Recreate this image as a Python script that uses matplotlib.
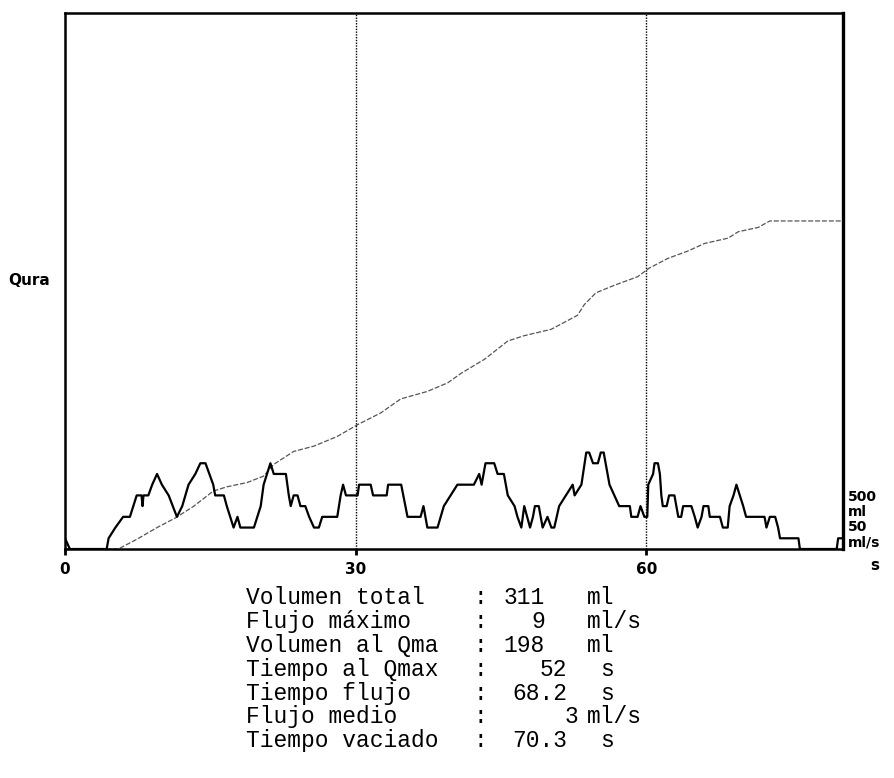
import matplotlib
matplotlib.use("Agg")
import matplotlib.pyplot as plt

# ---- data ----
flow_t = [0, 0.5, 4.3, 4.5, 5.2, 6.0, 6.7, 7.4, 7.9, 8.0, 8.1, 8.6, 9.0, 9.5, 10.0, 10.7,
          11.55, 12.1, 12.75, 13.45, 13.97, 14.5, 14.9, 15.3, 15.5, 16.4, 16.7, 17.4, 17.8,
          18.1, 19.5, 20.2, 20.5, 21.2, 21.55, 22.8, 23.1, 23.3, 23.6, 24.0, 24.3, 24.8,
          25.2, 25.7, 26.2, 26.55, 28.1, 28.45, 28.7, 29.0, 30.2, 30.35, 31.55, 31.8, 33.2,
          33.35, 34.7, 35.35, 36.7, 37.0, 37.4, 38.45, 39.1, 39.8, 40.5, 42.2, 42.75, 43.0,
          43.4, 44.3, 44.65, 45.3, 45.7, 46.4, 46.7, 47.1, 47.4, 47.7, 48.0, 48.3, 48.5,
          48.9, 49.3, 49.8, 50.2, 50.5, 51.0, 52.4, 52.6, 53.3, 53.8, 54.1, 54.5, 55.0,
          55.3, 55.6, 56.0, 56.2, 56.7, 57.2, 58.3, 58.45, 59.1, 59.4, 59.8, 60.1, 60.2,
          60.7, 60.85, 61.2, 61.4, 61.55, 61.7, 62.1, 62.35, 62.9, 63.3, 63.6, 63.8, 64.65,
          65.0, 65.3, 65.7, 65.9, 66.4, 66.55, 67.6, 67.9, 68.4, 68.6, 69.0, 69.3, 69.65,
          70.0, 70.3, 72.2, 72.4, 72.75, 73.3, 73.6, 73.8, 75.7, 75.85, 79.65, 79.8, 80.3]
flow_q = [1, 0, 0, 1, 2, 3, 3, 5, 5, 4, 5, 5, 6, 7, 6, 5,
          3, 4, 6, 7, 8, 8, 7, 6, 5, 5, 4, 2, 3,
          2, 2, 4, 6, 8, 7, 7, 5, 4, 5, 5, 4, 4,
          3, 2, 2, 3, 3, 5, 6, 5, 5, 6, 6, 5, 5,
          6, 6, 3, 3, 4, 2, 2, 4, 5, 6, 6, 7, 6,
          8, 8, 7, 7, 5, 4, 3, 2, 4, 3, 2, 3, 4,
          4, 2, 3, 2, 2, 4, 6, 5, 6, 9, 9, 8, 8,
          9, 9, 7, 6, 5, 4, 4, 3, 3, 4, 3, 3, 6,
          7, 8, 8, 7, 5, 4, 4, 5, 5, 3, 3, 4, 4,
          3, 2, 3, 4, 4, 3, 3, 2, 2, 4, 5, 6, 5,
          4, 3, 3, 2, 3, 3, 2, 1, 1, 0, 0, 1, 1]

vol_t = [0, 5.5, 7.4, 9.5, 11.4, 13.3, 15.3, 16.7, 18.8, 20.5, 21.55, 23.6, 25.7, 28.1,
         30.2, 32.6, 34.65, 37.4, 39.5, 40.9, 43.3, 45.7, 47.4, 50.2, 52.9, 53.6, 54.8,
         56.7, 59.1, 60.3, 62.2, 64.3, 66.0, 68.45, 69.5, 71.55, 72.75, 73.3, 80.3]
vol_ml = [0, 0, 9, 20, 29, 40, 54, 58, 62, 68, 79, 91, 96, 105,
          116, 127, 140, 147, 155, 164, 177, 194, 199, 205, 218, 228, 239,
          246, 254, 262, 271, 278, 285, 290, 296, 300, 306, 306, 306]

x_ticks = [0, 30, 60]
x_tick_labels = ["0", "30", "60"]
right_labels = ["500", "ml", "50", "ml/s"]

stat_labels = ["Volumen total", "Flujo máximo", "Volumen al Qma", "Tiempo al Qmax",
               "Tiempo flujo", "Flujo medio", "Tiempo vaciado"]
stat_values = ["311", "9", "198", "52", "68.2", "3", "70.3"]
stat_units = ["ml", "ml/s", "ml", "s", "s", "ml/s", "s"]

# ---- figure ----
W, H = 895, 778
fig = plt.figure(figsize=(W / 100, H / 100), dpi=100)
fig.patch.set_facecolor("white")

L, R, T, B = 65, 843, 13, 549
ax = fig.add_axes([L / W, 1 - B / H, (R - L) / W, (B - T) / H])
ax.set_xlim(0, 80.3)
ax.set_ylim(0, 50)

ax2 = ax.twinx()
ax2.set_ylim(0, 500)
for s in ax2.spines.values():
    s.set_visible(False)
ax2.set_yticks([])

ax2.plot(vol_t, vol_ml, color="#555555", lw=0.9, ls=(0, (4, 1.5)), zorder=2)
ax.plot(flow_t, flow_q, color="black", lw=1.6, zorder=3)
ax.set_zorder(ax2.get_zorder() + 1)
ax.patch.set_visible(False)

for xv in [30, 60]:
    ax.axvline(xv, color="black", lw=1.0, ls=(0, (1, 1)), zorder=1)

for s in ax.spines.values():
    s.set_color("black")
    s.set_linewidth(1.8)
ax.spines["right"].set_linewidth(2.4)

ax.set_yticks([])
ax.set_xticks(x_ticks)
ax.set_xticklabels(x_tick_labels, fontsize=11, fontweight="bold", family="DejaVu Sans")
ax.tick_params(axis="x", length=4, width=2, pad=5, direction="out")

# axis annotations
fig.text(8 / W, 1 - 281 / H, "Qura", fontsize=11, fontweight="bold", ha="left", va="center")
fig.text(875 / W, 1 - 565 / H, "s", fontsize=11, fontweight="bold", ha="center", va="center")
for lab, yy in zip(right_labels, [497, 512, 527, 542]):
    fig.text(848 / W, 1 - yy / H, lab, fontsize=10, fontweight="bold", ha="left", va="center")

# stats block
mono = "Liberation Mono"
fs = 16.5
baselines = [604, 628, 652, 676, 700, 723, 747]
val_right = [545, 545, 545, 567, 567, 578, 567]
unit_left = [587, 587, 587, 600, 600, 587, 600]
for lab, val, unit, yb, vr, ul in zip(stat_labels, stat_values, stat_units, baselines, val_right, unit_left):
    y = 1 - yb / H
    fig.text(246 / W, y, lab, family=mono, fontsize=fs, ha="left", va="baseline")
    fig.text(480 / W, y, ":", family=mono, fontsize=fs, ha="center", va="baseline")
    fig.text(vr / W, y, val, family=mono, fontsize=fs, ha="right", va="baseline")
    fig.text(ul / W, y, unit, family=mono, fontsize=fs, ha="left", va="baseline")

fig.savefig("out.png", dpi=100)
